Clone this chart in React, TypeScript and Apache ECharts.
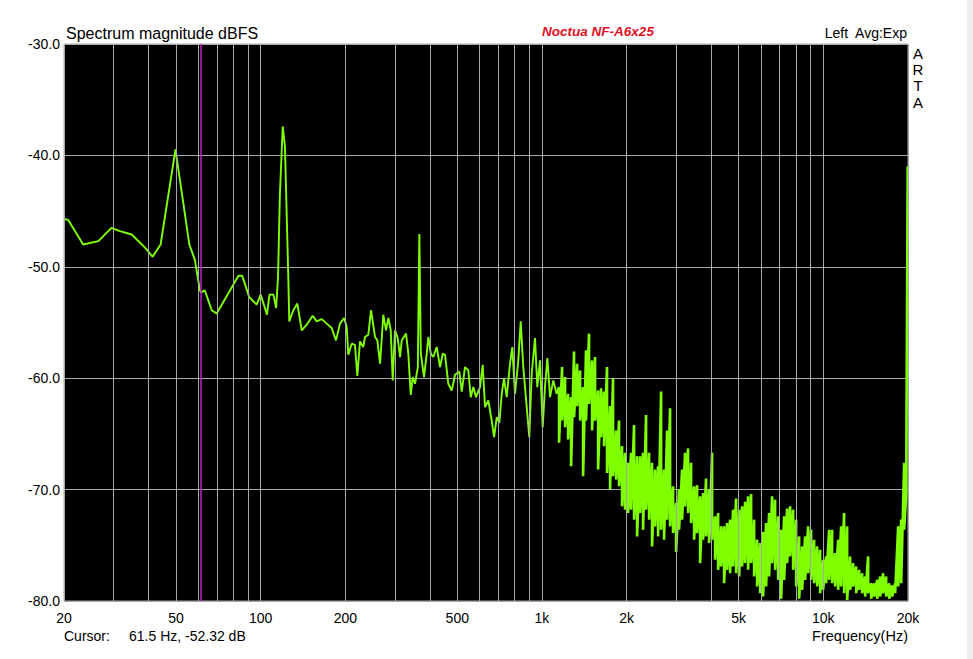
import React, { useEffect, useRef } from "react";
import * as echarts from "echarts";

// ---- data (Hz, dBFS) ----
const lowFreq = [20, 20.7, 23.4, 26.5, 29.5, 31.6, 34.8, 38.9, 41.3, 44.1, 49.8, 55.8, 58.4, 60.8, 61.5, 63.3, 67, 69.8, 83.4, 86, 91, 96.8, 100, 102.7, 105.3, 107.5, 111, 113.5, 115.3, 117, 119.8, 122, 125.4, 126.4, 130.7, 135, 140];
const lowDb = [-45.7, -45.8, -48.0, -47.7, -46.5, -46.8, -47.1, -48.3, -49.1, -48.0, -39.45, -48.0, -49.4, -52.1, -52.3, -52.1, -53.9, -54.2, -50.8, -50.8, -52.7, -53.4, -52.5, -53.4, -54.3, -52.5, -52.5, -53.7, -50.9, -43.7, -37.4, -39.2, -50.9, -54.9, -53.9, -53.3, -55.7];

const midFreq = [145.8, 153.1, 158.2, 164.8, 171.7, 178.9, 185.3, 191.5, 197.8, 202.3, 204.9, 210.7, 216.4, 220.6, 225.5, 231.6, 234.9, 241.4, 246.8, 255, 259.9, 265.7, 272.9, 279, 284.4, 290, 294.8, 300.3, 307.1, 313, 317.3, 328.7, 334.9, 341.6, 347.2, 353.8, 362, 366.5, 371, 380.8, 389.4, 394.5, 402.4, 410.9, 422.6, 434.2, 443.9, 452.3, 464.6, 477.7, 490.8, 508.4, 518.6, 532.7, 547.3, 558.2, 570.2, 582.9, 602.2, 615.6, 627.4, 644.6, 662.8, 675.6, 690.6, 705.4, 719.4, 732.8, 749.2, 769.6, 784.4, 801.8, 823.8, 840.2, 858.2, 882.6, 901.6, 919.4, 944.6, 962.6, 984, 1006, 1025, 1045, 1068, 1097, 1128];
const midDb = [-55.2, -54.4, -54.9, -54.7, -55.1, -55.5, -56.6, -55.1, -54.6, -55.4, -57.9, -56.9, -57.0, -59.8, -56.7, -57.2, -56.3, -56.1, -53.9, -56.3, -56.6, -58.7, -54.3, -55.7, -54.6, -55.7, -60.2, -55.7, -56.4, -58.1, -56.6, -56.0, -57.8, -61.5, -59.9, -60.5, -59.0, -47.05, -57.8, -59.9, -57.8, -56.3, -57.8, -58.1, -57.2, -59.0, -57.8, -57.9, -60.5, -61.1, -59.7, -59.4, -61.2, -59.0, -59.3, -61.7, -60.8, -61.7, -60.8, -58.8, -62.6, -62.0, -63.8, -65.3, -63.5, -64.0, -61.4, -60.0, -61.7, -58.7, -57.2, -61.4, -58.4, -54.9, -59.0, -62.6, -65.3, -59.6, -56.4, -60.8, -58.4, -64.4, -60.8, -58.2, -61.7, -60.2, -61.4];

// dense part of the trace: upper and lower extent of the trace at each frequency
const bandFreq = [1150, 1179, 1208, 1238, 1269, 1300, 1333, 1366, 1400, 1434, 1470, 1507, 1544, 1583, 1622, 1662, 1703, 1746, 1789, 1834, 1879, 1926, 1974, 2023, 2073, 2125, 2178, 2232, 2287, 2344, 2403, 2462, 2523, 2586, 2651, 2716, 2784, 2853, 2924, 2997, 3071, 3148, 3226, 3306, 3388, 3473, 3559, 3648, 3738, 3831, 3926, 4024, 4124, 4227, 4332, 4439, 4550, 4663, 4779, 4898, 5020, 5144, 5272, 5403, 5538, 5676, 5817, 5961, 6110, 6261, 6417, 6577, 6740, 6908, 7080, 7256, 7436, 7621, 7811, 8005, 8204, 8408, 8617, 8831, 9051, 9276, 9506, 9743, 9985, 10233, 10488, 10749, 11016, 11290, 11571, 11858, 12153, 12456, 12765, 13083, 13408, 13742, 14083, 14434, 14793, 15161, 15538, 15924, 16320, 16726, 17142, 17568, 18005, 18453, 18912, 19382];
const bandHi = [-60.8, -59.0, -59.9, -61.4, -61.7, -57.6, -58.7, -59.3, -60.8, -57.5, -56.0, -58.4, -58.1, -61.1, -60.9, -61.2, -59.0, -62.5, -60.0, -64.7, -63.8, -66.1, -66.7, -67.6, -66.7, -64.2, -67.0, -67.0, -66.7, -63.3, -66.7, -67.6, -68.2, -67.9, -61.2, -68.2, -64.7, -62.7, -69.7, -71.2, -70.0, -68.2, -66.7, -66.3, -67.6, -69.7, -69.6, -70.6, -70.3, -69.0, -70.0, -66.7, -72.4, -72.1, -73.3, -73.3, -73.0, -72.7, -71.8, -70.8, -71.8, -71.5, -71.1, -70.6, -70.4, -72.7, -74.5, -74.8, -73.8, -73.0, -72.1, -70.6, -70.9, -72.4, -73.6, -72.4, -71.7, -71.5, -71.8, -72.7, -74.2, -75.1, -74.2, -73.3, -73.6, -74.5, -75.1, -75.4, -76.3, -76.0, -73.6, -73.6, -75.7, -74.5, -73.3, -72.1, -73.3, -76.0, -76.6, -76.9, -77.2, -77.5, -77.8, -76.0, -78.4, -78.4, -78.1, -77.8, -77.5, -77.8, -78.4, -78.6, -78.4, -73.3, -72.7, -67.6];
const bandLo = [-65.8, -63.8, -64.4, -65.5, -67.9, -63.5, -62.5, -63.8, -68.8, -63.8, -62.3, -64.7, -63.8, -68.2, -65.3, -66.1, -68.5, -70.0, -68.8, -69.1, -69.7, -71.5, -71.8, -72.1, -71.8, -72.7, -74.2, -72.1, -73.6, -71.8, -72.7, -75.1, -73.3, -74.2, -73.6, -74.5, -72.7, -73.3, -73.9, -75.6, -73.6, -72.7, -71.5, -72.1, -73.0, -74.5, -73.9, -76.6, -74.5, -74.2, -74.8, -74.5, -76.3, -77.2, -76.9, -78.4, -77.2, -77.5, -76.9, -77.5, -77.8, -76.9, -76.6, -77.2, -76.6, -77.8, -78.7, -79.3, -79.6, -78.7, -77.8, -76.6, -77.2, -78.1, -79.8, -78.1, -76.6, -76.0, -77.2, -78.7, -79.8, -79.0, -78.1, -77.5, -78.1, -78.4, -78.7, -79.3, -79.0, -78.4, -78.1, -78.4, -78.7, -79.0, -78.7, -79.3, -79.9, -79.0, -78.7, -79.3, -79.0, -79.3, -79.6, -79.3, -79.8, -79.6, -79.8, -79.6, -79.3, -79.6, -79.8, -79.6, -79.3, -78.7, -78.4, -73.6];

const edgeFreq = [19700, 19950];
const edgeDb = [-70.5, -41.0];

// axis ticks / grid
const gridFreqs = [30, 40, 60, 70, 80, 90, 300, 400, 600, 700, 800, 900, 3000, 4000, 6000, 7000, 8000, 9000];
const labelFreqs = [20, 50, 100, 200, 500, 1000, 2000, 5000, 10000, 20000];
const labelText = ["20", "50", "100", "200", "500", "1k", "2k", "5k", "10k", "20k"];
const yMin = -80;
const yMax = -30;
const yStep = 10;

const cursorFreq = 61.5;
const cursorDb = -52.32;

const FONT = '"Liberation Sans", Arial, sans-serif';
const TRACE = "#80ff00";

export default function App() {
  const ref = useRef<HTMLDivElement>(null);

  useEffect(() => {
    if (!ref.current) return;
    const chart = echarts.init(ref.current, null, { renderer: "svg" });

    const sparse: number[][] = [
      ...lowFreq.map((f, i) => [f, lowDb[i]]),
      ...midFreq.map((f, i) => [f, midDb[i]]),
    ];
    const dense: number[][] = [
      sparse[sparse.length - 1],
      ...bandFreq.flatMap((f, i) => [
        [f, bandHi[i]],
        [f, bandLo[i]],
      ]),
      ...edgeFreq.map((f, i) => [f, edgeDb[i]]),
    ];

    const gridLines: any[] = [
      ...gridFreqs.map((f) => ({ xAxis: f, label: { show: false } })),
      ...labelFreqs.map((f, i) => ({
        xAxis: f,
        label: { show: true, formatter: labelText[i] },
      })),
    ];

    chart.setOption({
      animation: false,
      backgroundColor: "#ffffff",
      grid: {
        left: 64,
        right: 65,
        top: 44,
        bottom: 58,
        show: true,
        backgroundColor: "#000000",
        borderColor: "#a8a8a8",
        borderWidth: 1,
        containLabel: false,
        outerBoundsMode: "none",
      },
      xAxis: {
        type: "log",
        logBase: 10,
        min: 20,
        max: 20000,
        axisLine: { show: false },
        axisTick: { show: false },
        axisLabel: { show: false },
        splitLine: { show: false },
        minorTick: { show: false },
        minorSplitLine: { show: false },
      },
      yAxis: {
        type: "value",
        min: yMin,
        max: yMax,
        interval: yStep,
        axisLine: { show: false },
        axisTick: { show: false },
        axisLabel: {
          margin: 4,
          color: "#000",
          fontSize: 14,
          fontFamily: FONT,
          formatter: (v: number) => v.toFixed(1),
        },
        splitLine: { show: true, lineStyle: { color: "#a8a8a8", width: 1 } },
      },
      series: [
        {
          type: "line",
          name: "grid",
          data: [],
          z: 1,
          silent: true,
          markLine: {
            silent: true,
            animation: false,
            symbol: ["none", "none"],
            lineStyle: { color: "#a8a8a8", width: 1, type: "solid" },
            label: {
              position: "start",
              distance: 10,
              color: "#000",
              fontSize: 14,
              fontFamily: FONT,
            },
            emphasis: { disabled: true },
            data: gridLines,
          },
        },
        {
          type: "line",
          name: "cursor",
          data: [],
          z: 2,
          silent: true,
          markLine: {
            silent: true,
            animation: false,
            symbol: ["none", "none"],
            lineStyle: { color: "#c020c8", width: 1.5, type: "solid", opacity: 1 },
            label: { show: false },
            emphasis: { disabled: true },
            data: [{ xAxis: cursorFreq }],
          },
        },
        {
          type: "line",
          name: "spectrum",
          data: sparse,
          z: 3,
          silent: true,
          showSymbol: false,
          symbol: "none",
          clip: true,
          lineStyle: { color: TRACE, width: 1.9 },
        },
        {
          type: "line",
          name: "spectrum-dense",
          data: dense,
          z: 3,
          silent: true,
          showSymbol: false,
          symbol: "none",
          clip: true,
          lineStyle: { color: TRACE, width: 2.6 },
        },
      ],
      graphic: [
        {
          type: "rect",
          shape: { x: 967, y: 0, width: 6, height: 659 },
          style: { fill: "#eeeeee" },
          silent: true,
        },
        {
          type: "text",
          x: 66,
          y: 33,
          style: {
            text: "Spectrum magnitude dBFS",
            fill: "#000",
            font: `16px ${FONT}`,
            align: "left",
            verticalAlign: "middle",
          },
        },
        {
          type: "text",
          x: 598,
          y: 31,
          style: {
            text: "Noctua NF-A6x25",
            fill: "#e0101e",
            font: `italic bold 13.5px ${FONT}`,
            align: "center",
            verticalAlign: "middle",
          },
        },
        {
          type: "text",
          x: 907,
          y: 33,
          style: {
            text: "Left  Avg:Exp",
            fill: "#000",
            font: `14px ${FONT}`,
            align: "right",
            verticalAlign: "middle",
          },
        },
        {
          type: "text",
          x: 918,
          y: 45,
          style: {
            text: "A\nR\nT\nA",
            fill: "#000",
            font: `15px ${FONT}`,
            lineHeight: 16.3,
            align: "center",
            verticalAlign: "top",
          },
        },
        {
          type: "text",
          x: 64,
          y: 636,
          style: {
            text: "Cursor:",
            fill: "#000",
            font: `14px ${FONT}`,
            align: "left",
            verticalAlign: "middle",
          },
        },
        {
          type: "text",
          x: 129,
          y: 636,
          style: {
            text: `${cursorFreq} Hz, ${cursorDb} dB`,
            fill: "#000",
            font: `14px ${FONT}`,
            align: "left",
            verticalAlign: "middle",
          },
        },
        {
          type: "text",
          x: 908,
          y: 636,
          style: {
            text: "Frequency(Hz)",
            fill: "#000",
            font: `14.5px ${FONT}`,
            align: "right",
            verticalAlign: "middle",
          },
        },
      ],
    });

    return () => {
      chart.dispose();
    };
  }, []);

  return (
    <div
      ref={ref}
      style={{
        position: "fixed",
        left: 0,
        top: 0,
        width: 973,
        height: 659,
        background: "#ffffff",
      }}
    />
  );
}
